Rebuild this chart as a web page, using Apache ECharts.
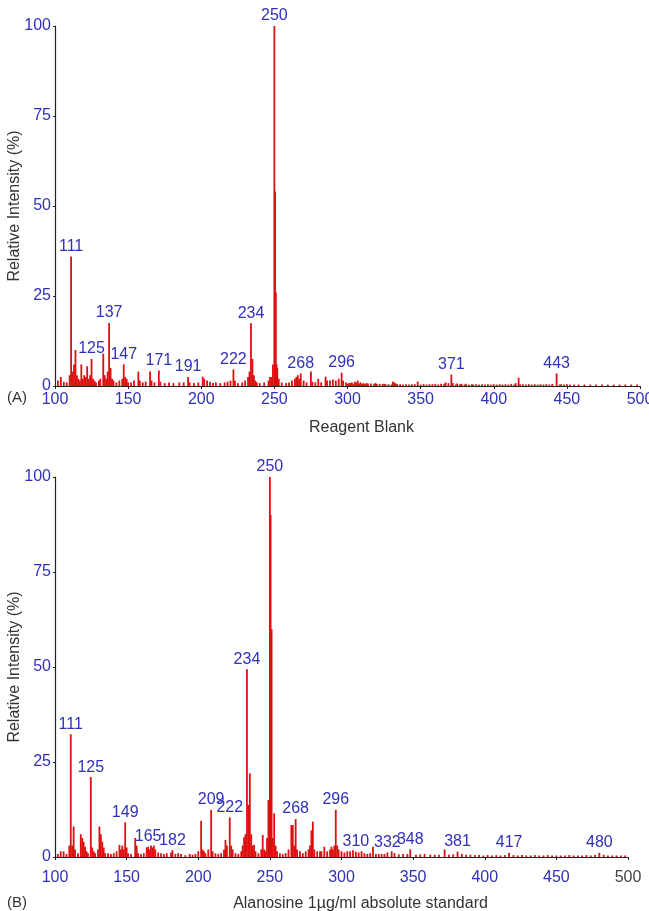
<!DOCTYPE html>
<html>
<head>
<meta charset="utf-8">
<script src="https://cdn.jsdelivr.net/npm/echarts@6/dist/echarts.min.js"></script>
<style>html,body{margin:0;padding:0;background:#fff;}#c{width:649px;height:911px;}</style>
</head>
<body>
<div id="c"></div>
<script>
// ---- Data (m/z, relative intensity %) ----
var xTicks = [100, 150, 200, 250, 300, 350, 400, 450, 500];
var yTicks = [0, 25, 50, 75, 100];

var peaksA = [
  [102,1.5],[104,2.5],[106,1.2],[108,1.0],[110,3],[111,36],[112,4],[113,6],[114,10],[115,3],[116,2],[117,1.5],
  [118,6],[119,2],[120,3],[121,2.5],[122,5.5],[123,2],[124,3],[125,7.5],[126,2],[127,1.5],[128,1],[130,1.5],
  [131,2],[133,9],[134,3],[135,2],[136,4],[137,17.5],[138,5],[139,2],[140,1.5],[142,1],[144,1.5],[146,2],
  [147,6],[148,2.5],[149,2],[150,1],[152,1],[154,1.5],[157,4],[158,1.5],[160,1],[162,1.2],[165,4],[166,1.5],
  [168,1],[171,4.3],[172,1.2],[175,0.8],[178,1],[181,0.8],[185,1],[188,1],[191,2.5],[192,1],[195,0.8],[198,1],
  [201,2.6],[202,2],[204,1.5],[206,1.2],[208,0.8],[210,1],[213,0.8],[216,1],[218,1.2],[220,1.5],[222,4.6],
  [223,1.5],[225,0.8],[228,1],[230,1.5],[232,2.5],[233,4],[234,17.4],[235,7.5],[236,3],[237,1.5],[238,1],
  [240,0.8],[243,1],[246,1.5],[247,2.5],[248,2.5],[249,6],[250,100],[250.5,54],[251,26],[251.5,6],[252,5],
  [253,2],[255,1],[258,0.8],[260,1],[262,1.5],[264,2],[265,2.5],[266,3],[267,2],[268,3.5],[270,1.5],[272,1],
  [275,4],[276,1.2],[278,1],[280,2],[282,1],[285,2.6],[286,1.5],[288,1.5],[290,1.8],[292,1.5],[294,2],
  [296,3.7],[297,1.5],[299,1],[301,0.8],[303,1],[305,1.2],[307,1.5],[309,1],[311,0.8],[313,0.8],[316,0.7],
  [319,0.8],[322,0.6],[325,0.6],[328,0.5],[331,1.2],[332,1],[336,0.5],[340,0.5],[344,0.5],[348,1.2],[352,0.5],
  [356,0.5],[360,0.6],[364,0.6],[367,1],[369,0.8],[371,3.2],[372,0.8],[375,0.7],[378,0.6],[381,0.6],[385,0.5],
  [388,0.5],[392,0.5],[396,0.5],[400,0.5],[404,0.5],[408,0.5],[412,0.6],[415,0.8],[417,2.3],[420,0.5],
  [424,0.5],[428,0.5],[432,0.5],[436,0.5],[440,0.6],[443,3.5],[446,0.5],[450,0.5]
];
var noiseA = [
  [300,0.6],[302,0.8],[304,0.5],[306,1.0],[308,0.7],[310,0.6],[312,0.5],[314,0.7],[318,0.5],[320,0.6],
  [324,0.5],[326,0.5],[330,0.4],[333,0.7],[334,0.5],[338,0.4],[342,0.4],[346,0.5],[350,0.4],[354,0.4],
  [358,0.5],[362,0.4],[366,0.5],[374,0.4],[377,0.5],[380,0.4],[383,0.4],[386,0.4],[390,0.4],[394,0.4],
  [398,0.4],[402,0.4],[406,0.4],[410,0.4],[414,0.4],[418,0.5],[422,0.4],[426,0.4],[430,0.4],[434,0.4],
  [438,0.4],[445,0.4],[448,0.4],[452,0.4],[455,0.4],[458,0.4],[462,0.4],[466,0.4],[470,0.4],[474,0.4],
  [478,0.4],[482,0.4],[486,0.4],[490,0.4],[494,0.4],[498,0.4]
];
var labelsA = [111,125,137,147,171,191,222,234,250,268,296,371,443];

var peaksB = [
  [102,0.8],[104,1.5],[106,1.5],[108,0.8],[110,3],[111,32.3],[112,3],[113,8],[114,2],[116,1],[118,6],[119,5],
  [120,4],[121,2.7],[122,1.5],[123,1],[125,21],[126,2.5],[127,1.5],[128,1],[130,2],[131,8],[132,6],[133,4],
  [134,2.5],[135,1],[137,1],[139,0.8],[141,1],[143,1.5],[145,3.2],[146,2],[147,3],[148,2],[149,9.1],[150,2.5],
  [151,1],[153,0.8],[156,5],[157,3],[158,1],[160,0.8],[162,1],[164,2.5],[165,2.7],[166,2],[167,3],[168,2.5],
  [169,3],[170,2],[172,1.2],[174,1],[176,0.8],[178,1],[181,1.2],[182,1.8],[184,0.8],[186,1],[188,0.8],
  [191,0.5],[194,0.8],[196,0.6],[198,0.8],[200,1.5],[202,9.5],[203,2],[204,1.5],[205,1],[207,2],[209,12.4],
  [210,1.5],[212,1],[214,0.8],[216,1],[218,2],[219,4.5],[220,3],[222,10.4],[223,3],[224,2],[226,1],[228,0.8],
  [230,1.5],[231,3],[232,5.2],[233,6],[234,49.4],[235,13.7],[236,22],[237,6],[238,3],[239,3.2],[240,1.5],
  [242,1],[244,2],[245,5.8],[246,2],[247,1.5],[248,5],[249,15],[250,100],[250.5,90],[251.2,60],[252,5],
  [253,11.5],[254,3],[255,1.5],[257,1],[259,0.8],[261,1],[263,2],[265,8.4],[266,8.4],[267,3],[268,10],
  [269,2],[271,1.5],[273,1],[275,1.5],[277,2],[278,3],[279,7],[280,9.3],[281,2],[283,1.5],[285,1.5],
  [286,1.5],[288,2.7],[290,1.5],[292,2],[293,2.7],[294,2],[295,3],[296,12.4],[297,3],[298,2],[300,1.5],
  [302,1.2],[304,1.5],[306,1.5],[308,1.8],[310,1.4],[312,1.2],[314,1.5],[316,1],[318,0.8],[320,1],[322,2.7],
  [324,0.8],[326,0.8],[328,0.8],[330,0.8],[332,1.2],[335,1.5],[337,1],[340,0.7],[343,0.8],[346,0.8],[348,2],
  [352,0.6],[355,0.7],[358,0.8],[362,0.6],[365,0.6],[368,0.6],[372,2],[375,0.6],[378,0.7],[381,1.4],
  [384,0.8],[387,0.6],[390,0.6],[417,1.1],[480,1.1]
];
var noiseB = [
  [393,0.5],[396,0.5],[399,0.4],[402,0.5],[405,0.4],[408,0.5],[411,0.4],[414,0.5],[420,0.5],[423,0.4],
  [426,0.5],[429,0.4],[432,0.4],[435,0.5],[438,0.4],[441,0.4],[444,0.5],[447,0.4],[450,0.4],[453,0.4],
  [456,0.4],[459,0.5],[462,0.4],[465,0.4],[468,0.4],[471,0.5],[474,0.4],[477,0.5],[483,0.6],[486,0.4],
  [489,0.4],[492,0.4],[495,0.4],[498,0.4]
];
var labelsB = [111,125,149,165,182,209,222,234,250,268,296,310,332,348,381,417,480];

var titleA = 'Reagent Blank';
var titleB = 'Alanosine 1\u00b5g/ml absolute standard';
var yTitle = 'Relative Intensity (%)';

// ---- Styles ----
var BLUE = '#3030b8';
var RED = '#dd0f0f';
var FONT = 'Liberation Sans, Arial, Helvetica, sans-serif';

function buildData(peaks, noise, labels) {
  var all = noise.concat(peaks);
  return all.map(function (p) {
    if (labels.indexOf(p[0]) >= 0 && peaks.indexOf(p) >= 0) {
      return { value: p, label: { show: true, formatter: String(p[0]) } };
    }
    return p;
  });
}

function xAxisCfg(gridIndex, name, lastGray, margin, nameGap, namePad) {
  return {
    type: 'value', gridIndex: gridIndex, min: 100, max: 500, interval: 50,
    name: name, nameLocation: 'middle', nameGap: nameGap, nameMoveOverlap: false,
    nameTextStyle: { color: '#333', fontSize: 16, fontFamily: FONT, padding: [0, 0, 0, namePad] },
    axisLine: { lineStyle: { color: '#222', width: 1.2 } },
    axisTick: { show: true, length: 3, lineStyle: { color: '#222' } },
    axisLabel: {
      margin: margin, fontSize: 16, fontFamily: FONT, color: BLUE,
      formatter: function (v) { return (lastGray && v === 500) ? '{g|' + v + '}' : String(v); },
      rich: { g: { color: '#444', fontSize: 16, fontFamily: FONT } }
    },
    splitLine: { show: false }
  };
}
function yAxisCfg(gridIndex) {
  return {
    type: 'value', gridIndex: gridIndex, min: 0, max: 100, interval: 25,
    name: yTitle, nameLocation: 'middle', nameGap: 32, nameMoveOverlap: false,
    nameTextStyle: { color: '#333', fontSize: 16, fontFamily: FONT },
    axisLine: { show: true, lineStyle: { color: '#222', width: 1.2 } },
    axisTick: { show: true, length: 2, lineStyle: { color: '#222' } },
    axisLabel: { margin: 4, fontSize: 16, fontFamily: FONT, color: BLUE },
    splitLine: { show: false }
  };
}
function seriesCfg(idx, data) {
  return {
    type: 'bar', xAxisIndex: idx, yAxisIndex: idx, data: data, barWidth: 1.8,
    itemStyle: { color: RED },
    label: { show: false, position: 'top', distance: 2, color: BLUE, fontSize: 16, fontFamily: FONT },
    animation: false, silent: true
  };
}

var chart = echarts.init(document.getElementById('c'), null, { renderer: 'canvas' });
chart.setOption({
  backgroundColor: '#fff',
  animation: false,
  grid: [
    { left: 55, top: 26, width: 585, height: 360, outerBoundsMode: 'none', containLabel: false },
    { left: 55, top: 477, width: 573, height: 380, outerBoundsMode: 'none', containLabel: false }
  ],
  xAxis: [xAxisCfg(0, titleA, false, 6, 34, 28), xAxisCfg(1, titleB, true, 13, 39, 38)],
  yAxis: [yAxisCfg(0), yAxisCfg(1)],
  series: [
    seriesCfg(0, buildData(peaksA, noiseA, labelsA)),
    seriesCfg(1, buildData(peaksB, noiseB, labelsB))
  ],
  graphic: [
    { type: 'text', left: 7, top: 390, style: { text: '(A)', fill: '#333', fontSize: 15, fontFamily: FONT } },
    { type: 'text', left: 7, top: 895, style: { text: '(B)', fill: '#333', fontSize: 15, fontFamily: FONT } }
  ]
});
</script>
</body>
</html>
